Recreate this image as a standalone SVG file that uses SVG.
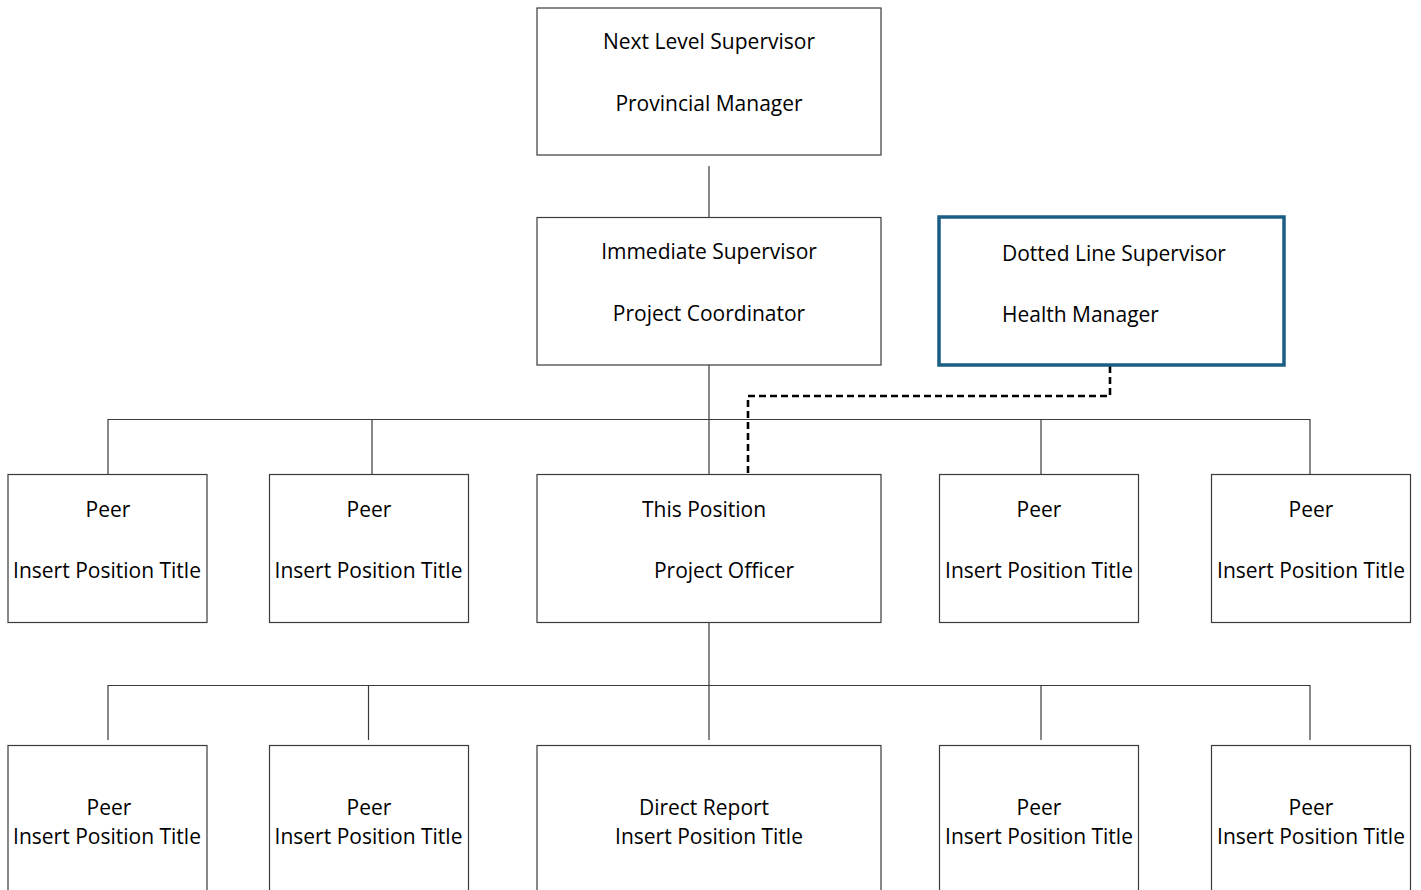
<svg xmlns="http://www.w3.org/2000/svg" width="1421" height="890" viewBox="0 0 1421 890">
<style>
.box{fill:#ffffff;stroke:#3a3a3a;stroke-width:1.2}
.dbox{fill:#ffffff;stroke:#1b5e84;stroke-width:3.5}
.t{font-family:"Open Sans","Noto Sans",sans-serif;font-size:21px;fill:#000000}
.c{text-anchor:middle}
.ln{fill:none;stroke:#3a3a3a;stroke-width:1.2}
.dash{fill:none;stroke:#000000;stroke-width:2.6;stroke-dasharray:7,4}
</style>
<rect width="1421" height="890" fill="#ffffff"/>
<g id="connectors">
<line class="ln" x1="709" y1="166" x2="709" y2="217"/>
<line class="ln" x1="709" y1="365" x2="709" y2="474"/>
<polyline class="ln" points="108,474 108,419.5 1310,419.5 1310,474"/>
<line class="ln" x1="372" y1="419" x2="372" y2="474"/>
<line class="ln" x1="1041" y1="419" x2="1041" y2="474"/>
<line class="ln" x1="709" y1="622" x2="709" y2="740"/>
<polyline class="ln" points="108,740 108,685.5 1310,685.5 1310,740"/>
<line class="ln" x1="368.5" y1="685" x2="368.5" y2="740"/>
<line class="ln" x1="1041" y1="685" x2="1041" y2="740"/>
<polyline class="dash" points="1110,366 1110,396 748,396 748,474"/>
</g>
<g id="next-level">
<rect class="box" x="537" y="8" width="344" height="147"/>
<text class="t c" x="709" y="49">Next Level Supervisor</text>
<text class="t c" x="709" y="111">Provincial Manager</text>
</g>
<g id="immediate">
<rect class="box" x="537" y="217.5" width="344" height="147.5"/>
<text class="t c" x="709" y="259">Immediate Supervisor</text>
<text class="t c" x="709" y="321">Project Coordinator</text>
</g>
<g id="dotted">
<rect class="dbox" x="939" y="217" width="345" height="148"/>
<text class="t" x="1002" y="261">Dotted Line Supervisor</text>
<text class="t" x="1002" y="322">Health Manager</text>
</g>
<g id="peer1">
<rect class="box" x="8" y="474.5" width="199" height="148"/>
<text class="t c" x="108" y="517">Peer</text>
<text class="t c" x="107" y="578">Insert Position Title</text>
</g>
<g id="peer2">
<rect class="box" x="269.5" y="474.5" width="199" height="148"/>
<text class="t c" x="369" y="517">Peer</text>
<text class="t c" x="368.5" y="578">Insert Position Title</text>
</g>
<g id="this-position">
<rect class="box" x="537" y="474.5" width="344" height="148"/>
<text class="t c" x="704" y="517">This Position</text>
<text class="t c" x="724" y="578">Project Officer</text>
</g>
<g id="peer3">
<rect class="box" x="939.5" y="474.5" width="199" height="148"/>
<text class="t c" x="1039" y="517">Peer</text>
<text class="t c" x="1039" y="578">Insert Position Title</text>
</g>
<g id="peer4">
<rect class="box" x="1211.5" y="474.5" width="199" height="148"/>
<text class="t c" x="1311" y="517">Peer</text>
<text class="t c" x="1311" y="578">Insert Position Title</text>
</g>
<g id="report1">
<rect class="box" x="8" y="745.5" width="199" height="160"/>
<text class="t c" x="109" y="815">Peer</text>
<text class="t c" x="107" y="844">Insert Position Title</text>
</g>
<g id="report2">
<rect class="box" x="269.5" y="745.5" width="199" height="160"/>
<text class="t c" x="369" y="815">Peer</text>
<text class="t c" x="368.5" y="844">Insert Position Title</text>
</g>
<g id="direct-report">
<rect class="box" x="537" y="745.5" width="344" height="160"/>
<text class="t c" x="704" y="815">Direct Report</text>
<text class="t c" x="709" y="844">Insert Position Title</text>
</g>
<g id="report4">
<rect class="box" x="939.5" y="745.5" width="199" height="160"/>
<text class="t c" x="1039" y="815">Peer</text>
<text class="t c" x="1039" y="844">Insert Position Title</text>
</g>
<g id="report5">
<rect class="box" x="1211.5" y="745.5" width="199" height="160"/>
<text class="t c" x="1311" y="815">Peer</text>
<text class="t c" x="1311" y="844">Insert Position Title</text>
</g>
</svg>
